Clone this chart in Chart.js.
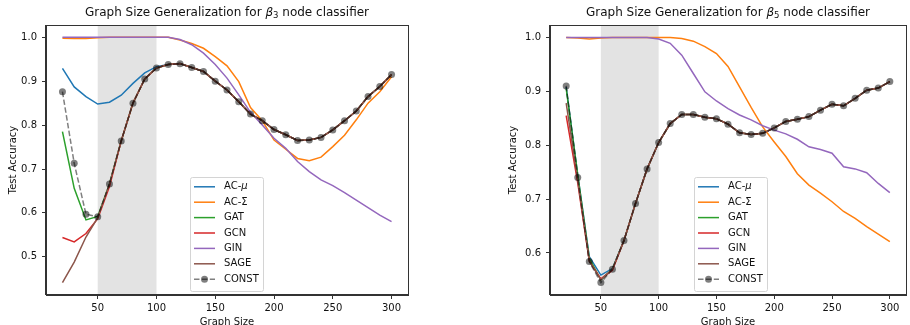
<!DOCTYPE html>
<html>
<head>
<meta charset="utf-8">
<script src="https://cdn.jsdelivr.net/npm/chart.js@4.4.1/dist/chart.umd.min.js"></script>
<style>
  body { margin: 0; background: #fff; }
  #wrap { position: relative; width: 910px; height: 325px; overflow: hidden; }
  canvas { position: absolute; top: 0; }
</style>
</head>
<body>
<div id="wrap">
  <canvas id="chartB3" width="455" height="325" style="left:0px"></canvas>
  <canvas id="chartB5" width="410" height="325" style="left:500px"></canvas>
</div>
<script>
// graph sizes on the x axis
const graphSizes = [20, 30, 40, 50, 60, 70, 80, 90, 100, 110, 120, 130, 140, 150, 160, 170, 180, 190, 200, 210, 220, 230, 240, 250, 260, 270, 280, 290, 300];
const xTicks = [50, 100, 150, 200, 250, 300];
const b3YTicks = [0.5, 0.6, 0.7, 0.8, 0.9, 1.0];
const b5YTicks = [0.6, 0.7, 0.8, 0.9, 1.0];

const seriesNames = ["AC-\u03bc", "AC-\u03a3", "GAT", "GCN", "GIN", "SAGE", "CONST"];
const seriesColors = ["#1f77b4", "#ff7f0e", "#2ca02c", "#d62728", "#9467bd", "#8c564b", "rgba(0,0,0,0.5)"];

// beta_3 classifier
const b3AcMu = [0.929, 0.887, 0.865, 0.848, 0.852, 0.868, 0.895, 0.919, 0.933, 0.938, 0.940, 0.931, 0.922, 0.900, 0.880, 0.853, 0.825, 0.810, 0.790, 0.778, 0.765, 0.766, 0.772, 0.789, 0.810, 0.832, 0.865, 0.888, 0.915];
const b3AcSigma = [0.998, 0.997, 0.997, 0.999, 1.000, 1.000, 1.000, 1.000, 1.000, 1.000, 0.994, 0.986, 0.975, 0.956, 0.935, 0.899, 0.840, 0.810, 0.766, 0.745, 0.724, 0.719, 0.727, 0.751, 0.777, 0.812, 0.850, 0.876, 0.910];
const b3Gat = [0.785, 0.656, 0.584, 0.592, 0.666, 0.764, 0.850, 0.905, 0.930, 0.938, 0.940, 0.931, 0.922, 0.900, 0.880, 0.853, 0.825, 0.810, 0.790, 0.778, 0.765, 0.766, 0.772, 0.789, 0.810, 0.832, 0.865, 0.888, 0.915];
const b3Gcn = [0.544, 0.534, 0.553, 0.587, 0.660, 0.764, 0.850, 0.905, 0.930, 0.938, 0.940, 0.931, 0.922, 0.900, 0.880, 0.853, 0.825, 0.810, 0.790, 0.778, 0.765, 0.766, 0.772, 0.789, 0.810, 0.832, 0.865, 0.888, 0.915];
const b3Gin = [1.000, 1.000, 1.000, 1.000, 1.000, 1.000, 1.000, 1.000, 1.000, 1.000, 0.995, 0.983, 0.964, 0.938, 0.907, 0.869, 0.829, 0.800, 0.770, 0.747, 0.717, 0.694, 0.675, 0.662, 0.646, 0.629, 0.612, 0.595, 0.580];
const b3Sage = [0.441, 0.488, 0.545, 0.589, 0.666, 0.764, 0.850, 0.905, 0.930, 0.938, 0.940, 0.931, 0.922, 0.900, 0.880, 0.853, 0.825, 0.810, 0.790, 0.778, 0.765, 0.766, 0.772, 0.789, 0.810, 0.832, 0.865, 0.888, 0.915];
const b3Const = [0.876, 0.713, 0.597, 0.591, 0.666, 0.764, 0.850, 0.905, 0.930, 0.938, 0.940, 0.931, 0.922, 0.900, 0.880, 0.853, 0.825, 0.810, 0.790, 0.778, 0.765, 0.766, 0.772, 0.789, 0.810, 0.832, 0.865, 0.888, 0.915];

// beta_5 classifier
const b5AcMu = [0.908, 0.745, 0.593, 0.559, 0.571, 0.623, 0.692, 0.756, 0.805, 0.840, 0.857, 0.857, 0.852, 0.849, 0.839, 0.823, 0.820, 0.822, 0.832, 0.844, 0.848, 0.853, 0.865, 0.876, 0.873, 0.887, 0.902, 0.906, 0.918];
const b5AcSigma = [1.000, 0.999, 0.997, 0.999, 1.000, 1.000, 1.000, 1.000, 1.000, 1.000, 0.998, 0.993, 0.983, 0.970, 0.946, 0.908, 0.870, 0.834, 0.806, 0.779, 0.747, 0.726, 0.711, 0.695, 0.677, 0.664, 0.649, 0.635, 0.621];
const b5Gat = [0.905, 0.745, 0.590, 0.550, 0.570, 0.623, 0.692, 0.756, 0.805, 0.840, 0.857, 0.857, 0.852, 0.849, 0.839, 0.823, 0.820, 0.822, 0.832, 0.844, 0.848, 0.853, 0.865, 0.876, 0.873, 0.887, 0.902, 0.906, 0.918];
const b5Gcn = [0.855, 0.730, 0.585, 0.552, 0.568, 0.623, 0.692, 0.756, 0.805, 0.840, 0.857, 0.857, 0.852, 0.849, 0.839, 0.823, 0.820, 0.822, 0.832, 0.844, 0.848, 0.853, 0.865, 0.876, 0.873, 0.887, 0.902, 0.906, 0.918];
const b5Gin = [1.000, 1.000, 1.000, 1.000, 1.000, 1.000, 1.000, 1.000, 0.997, 0.989, 0.967, 0.933, 0.899, 0.882, 0.868, 0.856, 0.847, 0.836, 0.828, 0.821, 0.811, 0.797, 0.792, 0.785, 0.760, 0.756, 0.749, 0.729, 0.712];
const b5Sage = [0.878, 0.735, 0.585, 0.550, 0.570, 0.623, 0.692, 0.756, 0.805, 0.840, 0.857, 0.857, 0.852, 0.849, 0.839, 0.823, 0.820, 0.822, 0.832, 0.844, 0.848, 0.853, 0.865, 0.876, 0.873, 0.887, 0.902, 0.906, 0.918];
const b5Const = [0.910, 0.740, 0.584, 0.545, 0.570, 0.623, 0.692, 0.756, 0.805, 0.840, 0.857, 0.857, 0.852, 0.849, 0.839, 0.823, 0.820, 0.822, 0.832, 0.844, 0.848, 0.853, 0.865, 0.876, 0.873, 0.887, 0.902, 0.906, 0.918];

Chart.defaults.font.family = "'DejaVu Sans', sans-serif";
Chart.defaults.font.size = 10;
Chart.defaults.color = "#111";

// grey band for the training sizes
const spanPlugin = {
  id: "trainSpan",
  beforeDatasetsDraw(chart) {
    const a = chart.chartArea, x = chart.scales.x;
    const x0 = x.getPixelForValue(50), x1 = x.getPixelForValue(100);
    const ctx = chart.ctx;
    ctx.save();
    ctx.fillStyle = "rgba(128,128,128,0.22)";
    ctx.fillRect(x0, a.top, x1 - x0, a.bottom - a.top);
    ctx.restore();
  }
};

// box round the plot, title and legend
const decorPlugin = {
  id: "decor",
  afterDraw(chart, args, opts) {
    const ctx = chart.ctx, a = chart.chartArea;
    ctx.save();
    ctx.strokeStyle = "#333";
    ctx.lineWidth = 1;
    ctx.strokeRect(Math.round(a.left) - 0.5, Math.round(a.top) + 0.5, Math.round(a.right - a.left) + 1, Math.round(a.bottom - a.top) - 1);

    // title: "Graph Size Generalization for β_k node classifier"
    const parts = [
      { t: "Graph Size Generalization for ", f: "12px 'DejaVu Sans'", dy: 0 },
      { t: "\u03b2", f: "oblique 12px 'DejaVu Sans'", dy: 0 },
      { t: opts.sub, f: "8.5px 'DejaVu Sans'", dy: 3 },
      { t: " node classifier", f: "12px 'DejaVu Sans'", dy: 0 }
    ];
    let w = 0;
    parts.forEach(p => { ctx.font = p.f; p.w = ctx.measureText(p.t).width; w += p.w; });
    let x = (a.left + a.right) / 2 - w / 2;
    ctx.fillStyle = "#111";
    ctx.textBaseline = "middle";
    ctx.textAlign = "left";
    parts.forEach(p => { ctx.font = p.f; ctx.fillText(p.t, x, 13 + p.dy); x += p.w; });

    // legend
    const L = opts.legend;
    ctx.beginPath();
    ctx.roundRect(L.left + 0.5, L.top + 0.5, L.width, L.height, 2);
    ctx.fillStyle = "rgba(255,255,255,0.8)";
    ctx.fill();
    ctx.strokeStyle = "#d4d4d4";
    ctx.stroke();
    chart.data.datasets.forEach((ds, i) => {
      const y = L.rowY + i * L.rowGap;
      const lx0 = L.left + 4, lx1 = lx0 + 21;
      ctx.save();
      ctx.strokeStyle = ds.borderColor;
      ctx.lineWidth = 1.5;
      if (ds.borderDash) ctx.setLineDash(ds.borderDash);
      ctx.beginPath();
      ctx.moveTo(lx0, y);
      ctx.lineTo(lx1, y);
      ctx.stroke();
      ctx.restore();
      if (ds.pointRadius > 0) {
        ctx.beginPath();
        ctx.arc((lx0 + lx1) / 2, y, ds.pointRadius, 0, Math.PI * 2);
        ctx.fillStyle = ds.pointBackgroundColor;
        ctx.fill();
      }
      ctx.fillStyle = "#111";
      ctx.font = "10px 'DejaVu Sans'";
      const label = ds.label;
      if (label.endsWith("\u03bc")) {
        const head = label.slice(0, -1);
        ctx.fillText(head, lx1 + 9, y);
        const hw = ctx.measureText(head).width;
        ctx.font = "oblique 10px 'DejaVu Sans'";
        ctx.fillText("\u03bc", lx1 + 9 + hw, y);
      } else {
        ctx.fillText(label, lx1 + 9, y);
      }
    });
    ctx.restore();
  }
};

function makeDatasets(series) {
  return series.map((vals, i) => {
    const isConst = i === series.length - 1;
    return {
      label: seriesNames[i],
      data: graphSizes.map((g, k) => ({ x: g, y: vals[k] })),
      borderColor: seriesColors[i],
      backgroundColor: seriesColors[i],
      borderWidth: 1.5,
      borderDash: isConst ? [5.5, 2.4] : undefined,
      pointRadius: isConst ? 3.5 : 0,
      pointBackgroundColor: seriesColors[i],
      pointBorderWidth: 0,
      tension: 0,
      order: series.length - 1 - i
    };
  });
}

function makeChart(id, series, yMin, yMax, yTicks, yWidth, padRight, sub, legendLeft) {
  return new Chart(document.getElementById(id), {
    type: "line",
    data: { datasets: makeDatasets(series) },
    options: {
      responsive: false,
      animation: false,
      layout: { padding: { top: 25, right: padRight, bottom: 0, left: 0 } },
      plugins: {
        legend: { display: false },
        tooltip: { enabled: false },
        decor: { sub: sub, legend: { left: legendLeft, top: 177, width: 73, height: 114, rowY: 186.8, rowGap: 15.4 } }
      },
      scales: {
        x: {
          type: "linear",
          min: 6,
          max: 314,
          afterBuildTicks: s => { s.ticks = xTicks.map(v => ({ value: v })); },
          afterFit: s => { s.height = 30; },
          ticks: { padding: 3, maxRotation: 0 },
          grid: { display: true, drawOnChartArea: false, drawTicks: true, tickLength: 4, tickColor: "#333" },
          border: { display: true, color: "#333" },
          title: { display: true, text: "Graph Size", padding: { top: 0, bottom: -3 } }
        },
        y: {
          type: "linear",
          min: yMin,
          max: yMax,
          afterBuildTicks: s => { s.ticks = yTicks.map(v => ({ value: v })); },
          afterFit: s => { s.width = yWidth; },
          ticks: { padding: 5, callback: v => Number(v).toFixed(1) },
          grid: { display: true, drawOnChartArea: false, drawTicks: true, tickLength: 4, tickColor: "#333" },
          border: { display: true, color: "#333" },
          title: { display: true, text: "Test Accuracy", padding: { top: 7, bottom: 0 } }
        }
      }
    },
    plugins: [spanPlugin, decorPlugin]
  });
}

makeChart("chartB3", [b3AcMu, b3AcSigma, b3Gat, b3Gcn, b3Gin, b3Sage, b3Const], 0.413, 1.028, b3YTicks, 46, 47, "3", 190);
makeChart("chartB5", [b5AcMu, b5AcSigma, b5Gat, b5Gcn, b5Gin, b5Sage, b5Const], 0.522, 1.023, b5YTicks, 50, 4, "5", 194);
</script>
</body>
</html>
